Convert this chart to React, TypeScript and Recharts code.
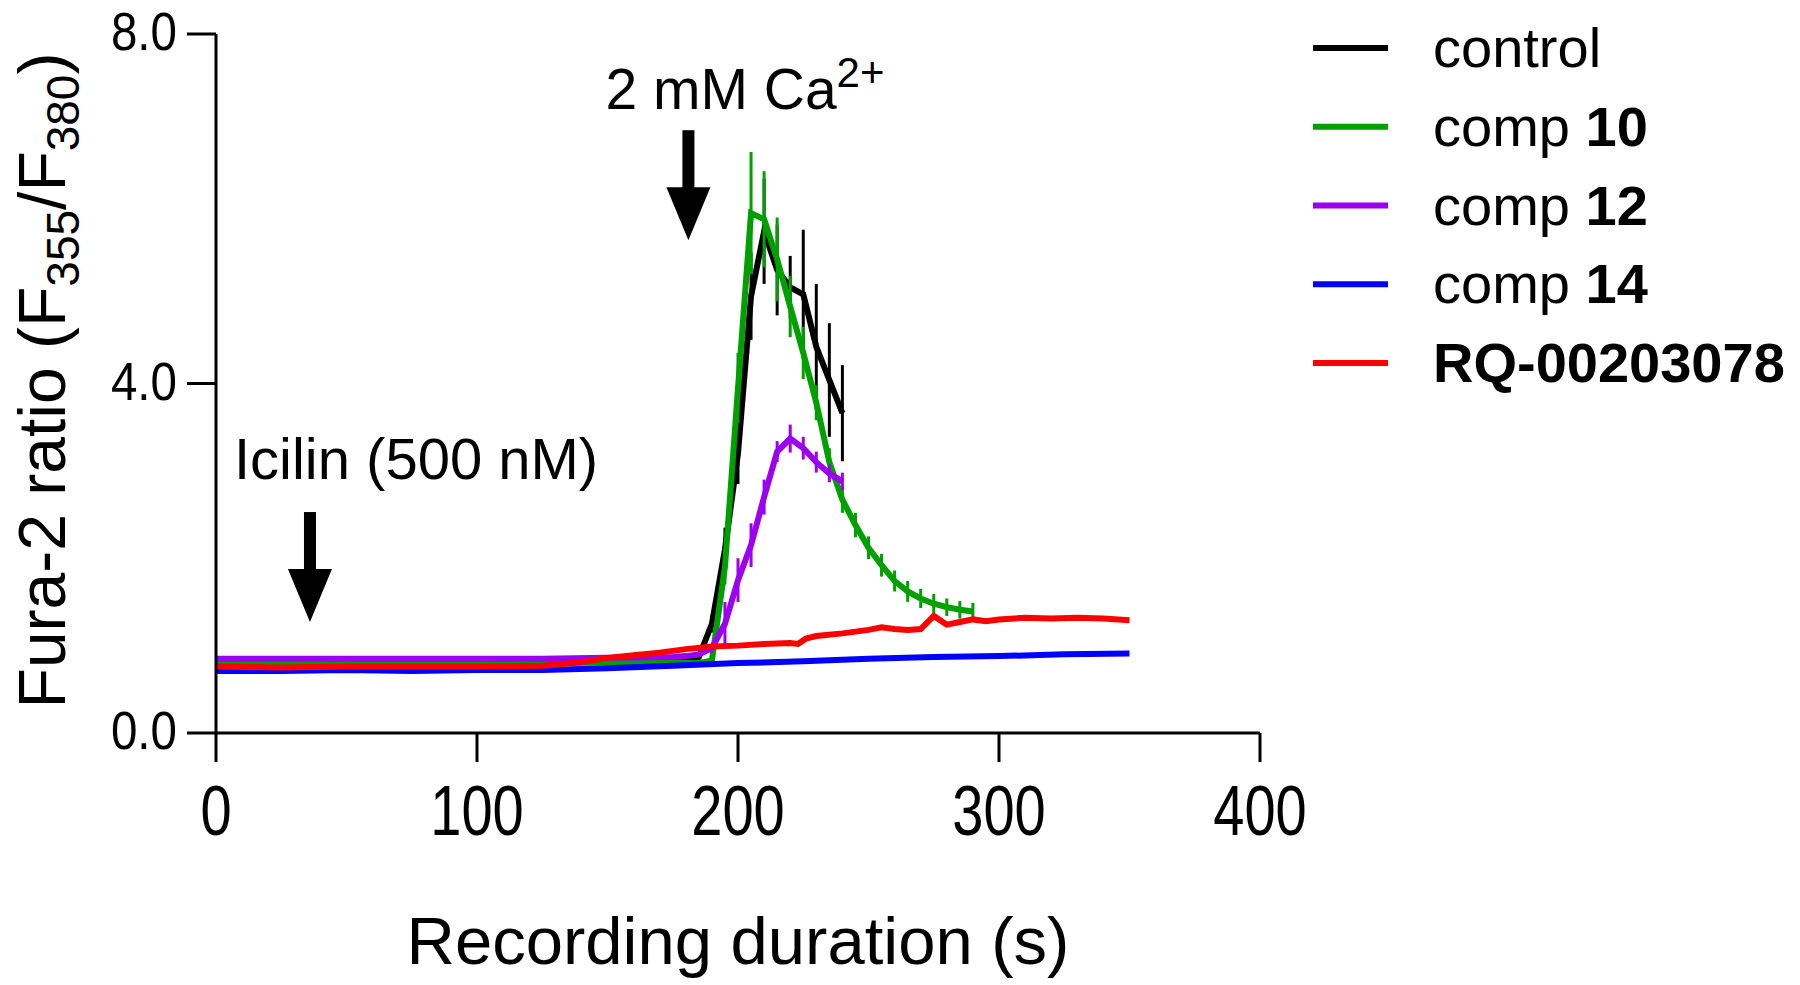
import { ErrorBar, Legend, Line, LineChart, ReferenceDot, XAxis, YAxis } from "recharts";

const FONT = "'Liberation Sans', Arial, sans-serif";

// control
const controlTime = [0, 25, 50, 75, 100, 125, 150, 175, 180, 185, 190, 195, 200, 205, 210, 215, 220, 225, 230, 235, 240];
const controlRatio = [0.8, 0.8, 0.81, 0.8, 0.8, 0.81, 0.81, 0.82, 0.83, 0.87, 1.25, 2.1, 3.2, 5.0, 5.74, 5.3, 5.1, 5.02, 4.42, 4.04, 3.66];
const controlSem = [0, 0, 0, 0, 0, 0, 0, 0, 0, 0, 0.1, 0.25, 0.35, 0.5, 0.6, 0.52, 0.36, 0.74, 0.72, 0.65, 0.55];

// comp 10
const comp10Time = [0, 25, 50, 75, 100, 125, 150, 175, 185, 190, 195, 200, 205, 210, 215, 220, 225, 230, 235, 240, 245, 250, 255, 260, 265, 270, 275, 280, 285, 290];
const comp10Ratio = [0.8, 0.81, 0.8, 0.8, 0.81, 0.8, 0.81, 0.81, 0.8, 0.83, 1.9, 3.95, 5.95, 5.88, 5.42, 4.88, 4.35, 3.78, 3.1, 2.67, 2.38, 2.12, 1.92, 1.74, 1.62, 1.54, 1.48, 1.44, 1.41, 1.39];
const comp10Sem = [0, 0, 0, 0, 0, 0, 0, 0, 0, 0, 0.2, 0.4, 0.7, 0.55, 0.48, 0.35, 0.3, 0.2, 0.16, 0.15, 0.14, 0.13, 0.13, 0.12, 0.12, 0.11, 0.11, 0.1, 0.1, 0.1];

// comp 12
const comp12Time = [0, 25, 50, 75, 100, 125, 150, 175, 180, 185, 190, 195, 200, 205, 210, 215, 220, 225, 230, 235, 240];
const comp12Ratio = [0.85, 0.85, 0.85, 0.85, 0.85, 0.85, 0.86, 0.87, 0.88, 0.9, 0.97, 1.25, 1.75, 2.15, 2.7, 3.22, 3.37, 3.26, 3.1, 2.97, 2.88];
const comp12Sem = [0, 0, 0, 0, 0, 0, 0, 0, 0, 0, 0.05, 0.25, 0.25, 0.25, 0.2, 0.12, 0.16, 0.13, 0.12, 0.1, 0.1];

// comp 14
const comp14Time = [0, 25, 50, 75, 100, 125, 150, 175, 200, 225, 250, 275, 300, 325, 350];
const comp14Ratio = [0.71, 0.71, 0.72, 0.71, 0.72, 0.72, 0.74, 0.77, 0.8, 0.82, 0.85, 0.87, 0.88, 0.9, 0.91];

// RQ-00203078
const rqTime = [0, 25, 50, 75, 100, 125, 140, 150, 160, 170, 180, 190, 200, 210, 220, 223, 226, 230, 240, 250, 255, 260, 265, 270, 275, 280, 285, 290, 295, 300, 310, 320, 330, 340, 350];
const rqRatio = [0.76, 0.75, 0.76, 0.76, 0.76, 0.77, 0.81, 0.86, 0.89, 0.92, 0.96, 0.99, 1.0, 1.02, 1.03, 1.02, 1.08, 1.11, 1.14, 1.18, 1.21, 1.19, 1.18, 1.19, 1.34, 1.24, 1.27, 1.3, 1.28, 1.3, 1.32, 1.31, 1.32, 1.31, 1.29];

const xTicks = [0, 100, 200, 300, 400];
const yTicks = [0, 4, 8];

const seriesNames = ["control", "comp 10", "comp 12", "comp 14", "RQ-00203078"];
const seriesColors = ["#000000", "#00A000", "#9B00F0", "#0000FF", "#FF0000"];

// arrow tips for the two additions
const icilinTip = { t: 36, v: 1.27 };
const calciumTip = { t: 181, v: 5.64 };

const build = (time: number[], ratio: number[], sem?: number[]) =>
  time.map((t, i) => ({ t, v: ratio[i], e: sem ? sem[i] : 0 }));

const controlData = build(controlTime, controlRatio, controlSem);
const comp10Data = build(comp10Time, comp10Ratio, comp10Sem);
const comp12Data = build(comp12Time, comp12Ratio, comp12Sem);
const comp14Data = build(comp14Time, comp14Ratio);
const rqData = build(rqTime, rqRatio);

const LINE_W = 6;

const XTick = ({ x, y, payload }: any) => (
  <text transform={`translate(${x},${y + 73}) scale(0.8,1)`} textAnchor="middle" fontSize={70} fontFamily={FONT} fill="#000">
    {payload.value}
  </text>
);

const YTick = ({ x, y, payload }: any) => (
  <text transform={`translate(${x},${y + 16}) scale(0.88,1)`} textAnchor="end" fontSize={54} fontFamily={FONT} fill="#000">
    {Number(payload.value).toFixed(1)}
  </text>
);

const YLabel = ({ viewBox }: any) => {
  const x = viewBox.x + 65;
  const y = viewBox.y + viewBox.height / 2 - 3;
  return (
    <text x={x} y={y} transform={`rotate(-90, ${x}, ${y})`} textAnchor="middle" fontSize={66} fontFamily={FONT} fill="#000">
      Fura-2 ratio (F<tspan dy={14} fontSize={46}>355</tspan>
      <tspan dy={-14}>/F</tspan>
      <tspan dy={14} fontSize={46}>380</tspan>
      <tspan dy={-14}>)</tspan>
    </text>
  );
};

const XLabel = ({ viewBox }: any) => (
  <text x={viewBox.x + viewBox.width / 2} y={viewBox.y + 231} textAnchor="middle" fontSize={67} fontFamily={FONT} fill="#000">
    Recording duration (s)
  </text>
);

const Arrow = ({ cx, cy }: any) => (
  <g fill="#000">
    <rect x={cx - 6} y={cy - 110} width={12} height={58} />
    <polygon points={`${cx - 22},${cy - 53} ${cx + 22},${cy - 53} ${cx},${cy}`} />
  </g>
);

const IcilinMark = (props: any) => (
  <g>
    <Arrow {...props} />
    <text x={props.cx - 76} y={props.cy - 143} fontSize={58} fontFamily={FONT} fill="#000">
      Icilin (500 nM)
    </text>
  </g>
);

const CalciumMark = (props: any) => (
  <g>
    <Arrow {...props} />
    <text x={props.cx - 83} y={props.cy - 131} fontSize={57} fontFamily={FONT} fill="#000">
      2 mM Ca<tspan dy={-22} fontSize={42}>2+</tspan>
    </text>
  </g>
);

const LegendBox = () => (
  <svg width={510} height={420}>
    {seriesNames.map((name, i) => {
      const y = 48 + i * 78.75;
      const [head, num] = name.startsWith("comp") ? name.split(" ") : [null, null];
      return (
        <g key={name}>
          <line x1={23} x2={98} y1={y} y2={y} stroke={seriesColors[i]} strokeWidth={LINE_W} />
          <text x={143} y={y + 19} fontSize={56} fontFamily={FONT} fill="#000">
            {head ? (
              <>
                {head}{" "}
                <tspan fontWeight="bold">{num}</tspan>
              </>
            ) : name === "control" ? (
              name
            ) : (
              <tspan fontWeight="bold">{name}</tspan>
            )}
          </text>
        </g>
      );
    })}
  </svg>
);

export default function App() {
  return (
    <div style={{ position: "absolute", left: 0, top: 0, background: "#fff" }}>
      <LineChart width={1800} height={985} margin={{ top: 34, right: 540, bottom: 0, left: 0 }}>
        <XAxis
          type="number"
          dataKey="t"
          domain={[0, 400]}
          ticks={xTicks}
          height={252}
          tickSize={29}
          tickMargin={0}
          tick={<XTick />}
          axisLine={{ stroke: "#000", strokeWidth: 3 }}
          tickLine={{ stroke: "#000", strokeWidth: 3 }}
          label={<XLabel />}
        />
        <YAxis
          type="number"
          domain={[0, 8]}
          ticks={yTicks}
          width={216}
          tickSize={29}
          tickMargin={10}
          tick={<YTick />}
          axisLine={{ stroke: "#000", strokeWidth: 3 }}
          tickLine={{ stroke: "#000", strokeWidth: 3 }}
          label={<YLabel />}
        />
        <Legend layout="vertical" align="center" verticalAlign="middle" content={<LegendBox />} wrapperStyle={{ left: 1290, top: 0, width: 510, height: 420 }} />
        <Line data={controlData} dataKey="v" name={seriesNames[0]} stroke={seriesColors[0]} strokeWidth={LINE_W} dot={false} activeDot={false} isAnimationActive={false}>
          <ErrorBar dataKey="e" direction="y" width={0} stroke={seriesColors[0]} strokeWidth={3} />
        </Line>
        <Line data={comp10Data} dataKey="v" name={seriesNames[1]} stroke={seriesColors[1]} strokeWidth={LINE_W} dot={false} activeDot={false} isAnimationActive={false}>
          <ErrorBar dataKey="e" direction="y" width={0} stroke={seriesColors[1]} strokeWidth={3} />
        </Line>
        <Line data={comp12Data} dataKey="v" name={seriesNames[2]} stroke={seriesColors[2]} strokeWidth={LINE_W} dot={false} activeDot={false} isAnimationActive={false}>
          <ErrorBar dataKey="e" direction="y" width={0} stroke={seriesColors[2]} strokeWidth={3} />
        </Line>
        <Line data={comp14Data} dataKey="v" name={seriesNames[3]} stroke={seriesColors[3]} strokeWidth={LINE_W} dot={false} activeDot={false} isAnimationActive={false} />
        <Line data={rqData} dataKey="v" name={seriesNames[4]} stroke={seriesColors[4]} strokeWidth={LINE_W} dot={false} activeDot={false} isAnimationActive={false} />
        <ReferenceDot x={icilinTip.t} y={icilinTip.v} r={0} shape={<IcilinMark />} />
        <ReferenceDot x={calciumTip.t} y={calciumTip.v} r={0} shape={<CalciumMark />} />
      </LineChart>
    </div>
  );
}
